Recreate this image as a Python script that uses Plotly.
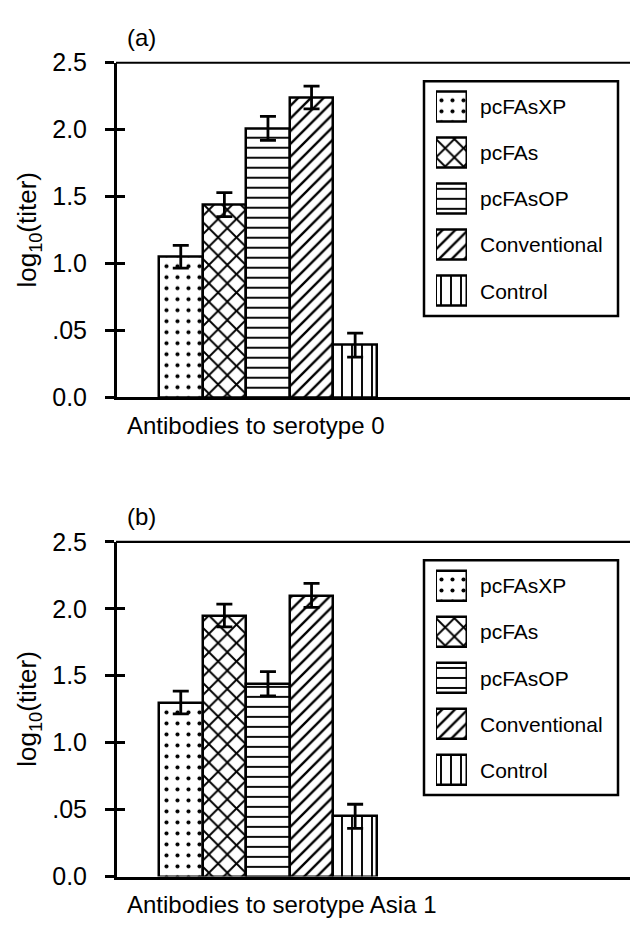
import plotly.graph_objects as go

# ---------------- data ----------------
series = ["pcFAsXP", "pcFAs", "pcFAsOP", "Conventional", "Control"]
values_a = [1.05, 1.44, 2.01, 2.24, 0.39]
errors_a = [0.085, 0.09, 0.09, 0.085, 0.09]
values_b = [1.30, 1.95, 1.44, 2.10, 0.45]
errors_b = [0.085, 0.085, 0.09, 0.09, 0.09]
group_a = "Antibodies to serotype 0"
group_b = "Antibodies to serotype Asia 1"
panel_a = "(a)"
panel_b = "(b)"
ytitle = "log<sub>10</sub>(titer)"
ytick_vals = [0, 0.5, 1.0, 1.5, 2.0, 2.5]
ytick_text = ["0.0", ".05", "1.0", "1.5", "2.0", "2.5"]

# ---------------- styles ----------------
pat_shape = [".", "x", "-", "/", "|"]
pat_size = [11, 13, 10, 9, 10]
pat_solid = [0.11, 0.27, 0.19, 0.26, 0.19]

W, H = 638, 931
OX, OY = 8, 8  # page body margin
FONT = "Liberation Sans, Arial, Helvetica, sans-serif"


def px(x):
    return (x - OX) / W


def py(y):
    return 1 - (y - OY) / H


fig = go.Figure()

panels = [
    (values_a, errors_a, group_a, panel_a, 0),
    (values_b, errors_b, group_b, panel_b, 494),
]

annotations = []
shapes = []

for i, (vals, errs, grp, plab, off) in enumerate(panels):
    main_x = "x" if i == 0 else "x2"
    main_y = "y" if i == 0 else "y2"
    leg_x = "x3" if i == 0 else "x4"
    leg_y = "y3" if i == 0 else "y4"
    ov_y = "y5" if i == 0 else "y6"

    pattern = dict(shape=pat_shape, size=pat_size, solidity=pat_solid,
                   fgcolor="black", fgopacity=1, bgcolor="white",
                   fillmode="overlay")

    fig.add_trace(go.Bar(
        x=series, y=vals, xaxis=main_x, yaxis=main_y,
        marker=dict(color="white", line=dict(color="black", width=2.5),
                    pattern=pattern),
        error_y=dict(type="data", array=errs, visible=True,
                     color="black", thickness=2.8, width=8),
        showlegend=False, hoverinfo="skip",
    ))
    # legend swatches drawn as horizontal bars
    fig.add_trace(go.Bar(
        y=series, x=[1] * len(series), orientation="h",
        xaxis=leg_x, yaxis=leg_y, width=0.653,
        marker=dict(color="white", line=dict(color="black", width=2.5),
                    pattern=pattern),
        showlegend=False, hoverinfo="skip",
    ))
    # empty trace on overlay axis (inner half of the y ticks)
    fig.add_trace(go.Scatter(x=[series[0]], y=[None], xaxis=main_x, yaxis=ov_y,
                             showlegend=False, hoverinfo="skip"))

    top = 50 + off
    bot = 395 + off
    left = 117
    right = 635

    xaxis_cfg = dict(domain=[px(left), px(right)], type="category",
                     range=[-1.463, 10.42], showticklabels=False, ticks="",
                     showline=True, linewidth=3, linecolor="black",
                     showgrid=False, zeroline=False, anchor=main_y,
                     fixedrange=True)
    yaxis_cfg = dict(domain=[py(bot), py(top)], range=[0, 2.5],
                     tickvals=ytick_vals, ticktext=ytick_text,
                     ticks="outside", ticklen=9, tickwidth=2.5,
                     tickcolor="black", ticklabelstandoff=13,
                     tickfont=dict(family=FONT, size=25, color="black"),
                     showline=True, linewidth=3, linecolor="black",
                     showgrid=False, zeroline=False, anchor=main_x,
                     fixedrange=True)
    ov_cfg = dict(overlaying=main_y, range=[0, 2.5], tickvals=ytick_vals,
                  ticks="inside", ticklen=8, tickwidth=2.5, tickcolor="black",
                  showticklabels=False, showline=False, showgrid=False,
                  zeroline=False, anchor=main_x, side="left", fixedrange=True)
    legx_cfg = dict(domain=[px(436), px(467)], range=[0, 1], visible=False,
                    anchor=leg_y, fixedrange=True)
    legy_cfg = dict(domain=[py(309.25 + off), py(71.75 + off)],
                    type="category", range=[4.5, -0.5], side="right",
                    showline=False, showgrid=False, zeroline=False, ticks="",
                    ticklabelstandoff=12,
                    tickfont=dict(family=FONT, size=21, color="black"),
                    anchor=leg_x, fixedrange=True)

    if i == 0:
        fig.update_layout(xaxis=xaxis_cfg, yaxis=yaxis_cfg, yaxis5=ov_cfg,
                          xaxis3=legx_cfg, yaxis3=legy_cfg)
    else:
        fig.update_layout(xaxis2=xaxis_cfg, yaxis2=yaxis_cfg, yaxis6=ov_cfg,
                          xaxis4=legx_cfg, yaxis4=legy_cfg)

    # frame: top and right edges
    shapes.append(dict(type="line", xref="paper", yref="paper",
                       x0=px(left - 1), x1=px(right), y0=py(top), y1=py(top),
                       line=dict(color="black", width=2.2)))
    shapes.append(dict(type="line", xref="paper", yref="paper",
                       x0=px(right), x1=px(right), y0=py(top), y1=py(bot),
                       line=dict(color="black", width=2.2)))
    # legend box
    shapes.append(dict(type="rect", xref="paper", yref="paper",
                       x0=px(424), x1=px(618), y0=py(311 + off), y1=py(69 + off),
                       line=dict(color="black", width=2.5)))

    annotations.append(dict(text=plab, xref="paper", yref="paper",
                            x=px(141), y=py(24 + off), xanchor="center",
                            yanchor="middle", showarrow=False,
                            font=dict(family=FONT, size=24, color="black")))
    annotations.append(dict(text=grp, xref="paper", yref="paper",
                            x=px(125), y=py(424 + off), xanchor="left",
                            yanchor="middle", showarrow=False,
                            font=dict(family=FONT, size=24, color="black")))
    annotations.append(dict(text=ytitle, xref="paper", yref="paper",
                            x=px(29), y=py(222 + off), xanchor="center",
                            yanchor="middle", textangle=-90, showarrow=False,
                            font=dict(family=FONT, size=26, color="black")))

fig.update_layout(
    width=W, height=H, margin=dict(l=0, r=0, t=0, b=0),
    paper_bgcolor="white", plot_bgcolor="white",
    bargap=0, barmode="group", showlegend=False,
    annotations=annotations, shapes=shapes,
    font=dict(family=FONT, color="black"),
)

fig.write_html("out.html")
